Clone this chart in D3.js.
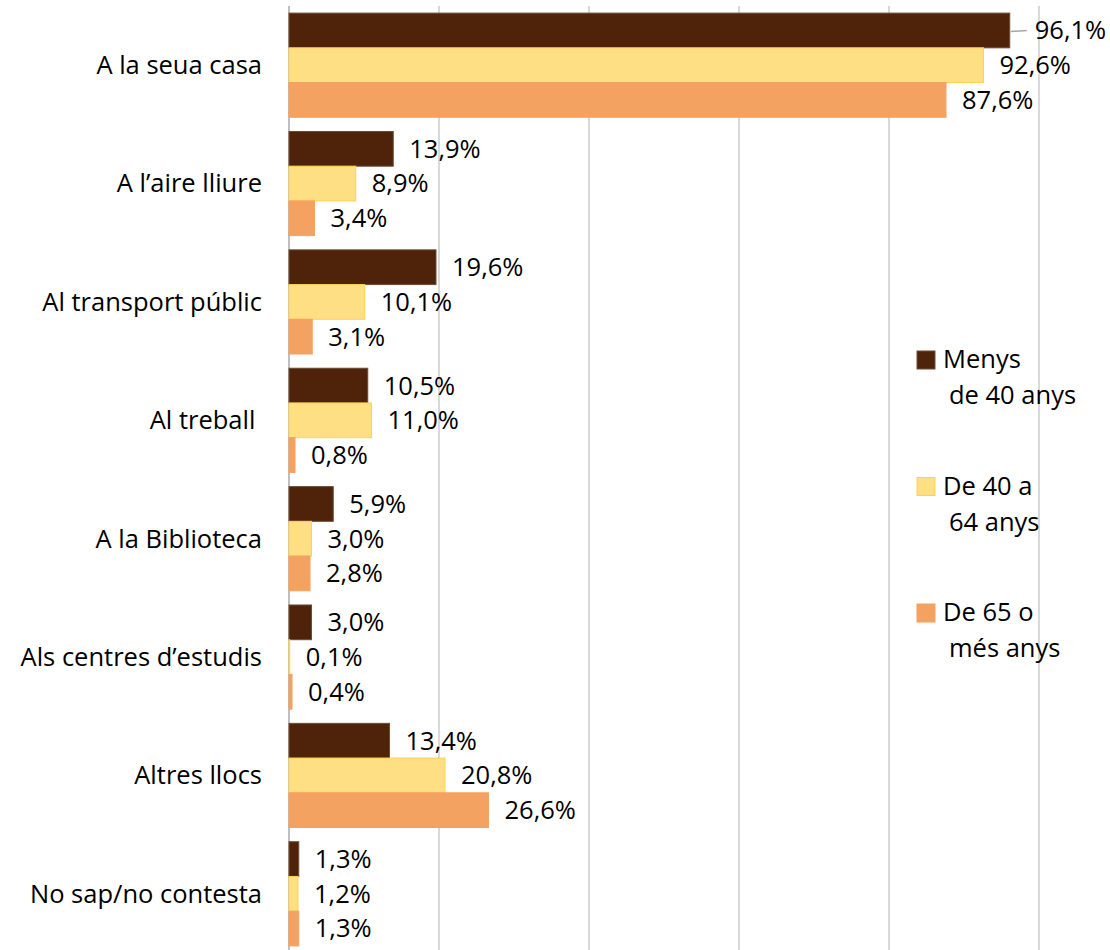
<!DOCTYPE html>
<meta charset="utf-8">
<style>

body {
  margin: 0;
  background: #fff;
}

text {
  font-family: "Open Sans", sans-serif;
  font-size: 25.5px;
  fill: #000;
}

.grid line {
  stroke: #d9d9d9;
  stroke-width: 2px;
}

</style>
<body>
<script src="https://cdn.jsdelivr.net/npm/d3@7"></script>
<script>

var categories = [
  "A la seua casa",
  "A l\u2019aire lliure",
  "Al transport p\u00fablic",
  "Al treball ",
  "A la Biblioteca",
  "Als centres d\u2019estudis",
  "Altres llocs",
  "No sap/no contesta"
];

var menys40 = [96.1, 13.9, 19.6, 10.5, 5.9, 3.0, 13.4, 1.3],
    de40a64 = [92.6, 8.9, 10.1, 11.0, 3.0, 0.1, 20.8, 1.2],
    de65 = [87.6, 3.4, 3.1, 0.8, 2.8, 0.4, 26.6, 1.3];

var seriesNames = ["Menys de 40 anys", "De 40 a 64 anys", "De 65 o m\u00e9s anys"],
    legendLines = [["Menys", "de 40 anys"], ["De 40 a", "64 anys"], ["De 65 o", "m\u00e9s anys"]],
    gridTicks = [0, 20, 40, 60, 80, 100];

var w = 1110,
    h = 950;

var series = [
  {name: seriesNames[0], values: menys40, fill: "#4e230a", stroke: "#6e4c35"},
  {name: seriesNames[1], values: de40a64, fill: "#ffdf84", stroke: "#ffd34f"},
  {name: seriesNames[2], values: de65, fill: "#f4a261", stroke: "#f4a261"}
];

var fmt = function(v) { return d3.format(".1f")(v).replace(".", ",") + "%"; };

var svg = d3.select("body").append("svg")
    .attr("width", w)
    .attr("height", h);

var x = d3.scaleLinear()
    .domain([0, 100])
    .range([289, 1039]);

var y0 = d3.scaleBand()
    .domain(categories)
    .range([6, 953])
    .paddingInner(0.12)
    .paddingOuter(0.06);

var y1 = d3.scaleBand()
    .domain(d3.range(series.length))
    .range([0, y0.bandwidth()]);

// vertical gridlines
svg.append("g")
    .attr("class", "grid")
  .selectAll("line")
    .data(gridTicks)
  .enter().append("line")
    .attr("x1", function(d) { return x(d); })
    .attr("x2", function(d) { return x(d); })
    .attr("y1", 6)
    .attr("y2", h)
    .style("stroke", function(d) { return d === 0 ? "#bfbfbf" : null; });

// bars
var group = svg.selectAll(".group")
    .data(categories)
  .enter().append("g")
    .attr("class", "group")
    .attr("transform", function(d) { return "translate(0," + y0(d) + ")"; });

group.selectAll("rect")
    .data(function(d, i) { return series.map(function(s, j) { return {s: s, j: j, v: s.values[i]}; }); })
  .enter().append("rect")
    .attr("x", x(0))
    .attr("y", function(d) { return y1(d.j); })
    .attr("width", function(d) { return x(d.v) - x(0); })
    .attr("height", y1.bandwidth())
    .attr("fill", function(d) { return d.s.fill; })
    .attr("stroke", function(d) { return d.s.stroke; })
    .attr("stroke-width", 1);

// value labels
group.selectAll(".value")
    .data(function(d, i) { return series.map(function(s, j) { return {s: s, j: j, v: s.values[i]}; }); })
  .enter().append("text")
    .attr("class", "value")
    .attr("x", function(d) { return x(d.v) + (d.v > 95 ? 25 : 16); })
    .attr("y", function(d) { return y1(d.j) + y1.bandwidth() / 2; })
    .attr("dy", "0.35em")
    .text(function(d) { return fmt(d.v); });

// leader line for the label pushed off the longest bar
group.selectAll(".leader")
    .data(function(d, i) { return series.map(function(s, j) { return {j: j, v: s.values[i]}; }).filter(function(d) { return d.v > 95; }); })
  .enter().append("line")
    .attr("class", "leader")
    .attr("x1", function(d) { return x(d.v) + 1; })
    .attr("x2", function(d) { return x(d.v) + 17; })
    .attr("y1", function(d) { return y1(d.j) + y1.bandwidth() / 2 + 1; })
    .attr("y2", function(d) { return y1(d.j) + y1.bandwidth() / 2; })
    .attr("stroke", "#a6a6a6")
    .attr("stroke-width", 1.5);

// category labels
svg.append("g").selectAll("text")
    .data(categories)
  .enter().append("text")
    .attr("x", 262)
    .attr("y", function(d) { return y0(d) + y0.bandwidth() / 2; })
    .attr("dy", "0.35em")
    .attr("text-anchor", "end")
    .style("white-space", "pre")
    .text(function(d) { return d; });

// legend
var legend = svg.append("g").selectAll("g")
    .data(series)
  .enter().append("g")
    .attr("transform", function(d, i) { return "translate(917," + (351 + i * 126.5) + ")"; });

legend.append("rect")
    .attr("width", 18)
    .attr("height", 18)
    .attr("fill", function(d) { return d.fill; })
    .attr("stroke", function(d) { return d.stroke; });

legend.append("text")
    .attr("x", 26)
    .attr("y", 17)
    .text(function(d, i) { return legendLines[i][0]; });

legend.append("text")
    .attr("x", 32)
    .attr("y", 53)
    .text(function(d, i) { return legendLines[i][1]; });

</script>
</body>
